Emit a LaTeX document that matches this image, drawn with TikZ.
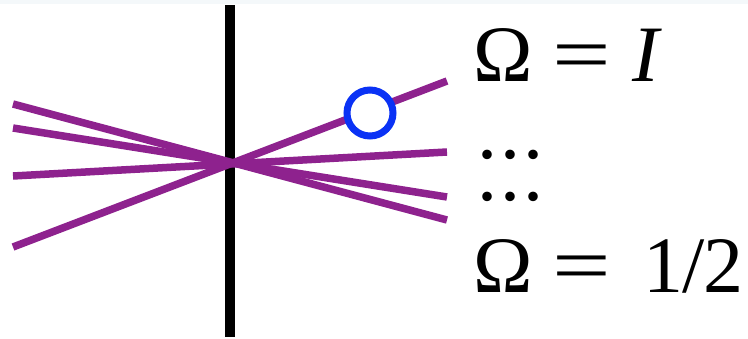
\documentclass[tikz,border=0pt]{standalone}
\usepackage{fontspec}
\setmainfont{Liberation Serif}
\definecolor{ray}{RGB}{142,34,142}
\definecolor{ringblue}{RGB}{10,50,245}
\definecolor{band}{RGB}{244,248,250}
\newcommand{\weq}{\scalebox{1.3}[1]{=}}
\tikzset{
  wall/.style={line width=10pt, black},
  rayline/.style={line width=7.5pt, ray},
  ring/.style={circle, draw=ringblue, line width=7pt, fill=white, minimum size=46pt, inner sep=0pt},
  lbl/.style={anchor=base west, inner sep=0pt, font=\fontsize{80}{96}\selectfont},
}
\begin{document}
\begin{tikzpicture}[x=1pt,y=-1pt]
\useasboundingbox (0,0) rectangle (748,338);
\fill[band] (0,0) rectangle (748,4);
\coordinate (wtop) at (230,5);
\coordinate (wbot) at (230,337);
\draw[wall] (wtop) -- (wbot);
% left ends
\coordinate (l1) at (13,104);
\coordinate (l2) at (13,128);
\coordinate (l3) at (13,176);
\coordinate (l4) at (13,247);
% right ends
\coordinate (r1) at (447,220);
\coordinate (r2) at (447,197);
\coordinate (r3) at (447,152);
\coordinate (r4) at (447,81);
\draw[rayline] (l1) -- (r1);
\draw[rayline] (l2) -- (r2);
\draw[rayline] (l3) -- (r3);
\draw[rayline] (l4) -- (r4);
\node[ring] (probe) at (370,113) {};
\node[lbl] (top) at (473,81) {Ω\kern20pt\weq\kern21pt\textit{I}};
\node[lbl] (d1) at (477,158) {.\kern3pt.\kern3pt.};
\node[lbl] (d2) at (477,200) {.\kern3pt.\kern3pt.};
\node[lbl] (bot) at (473,292) {Ω\kern20pt\weq\kern32pt1\kern-1pt/\kern-1pt2};
\end{tikzpicture}
\end{document}
